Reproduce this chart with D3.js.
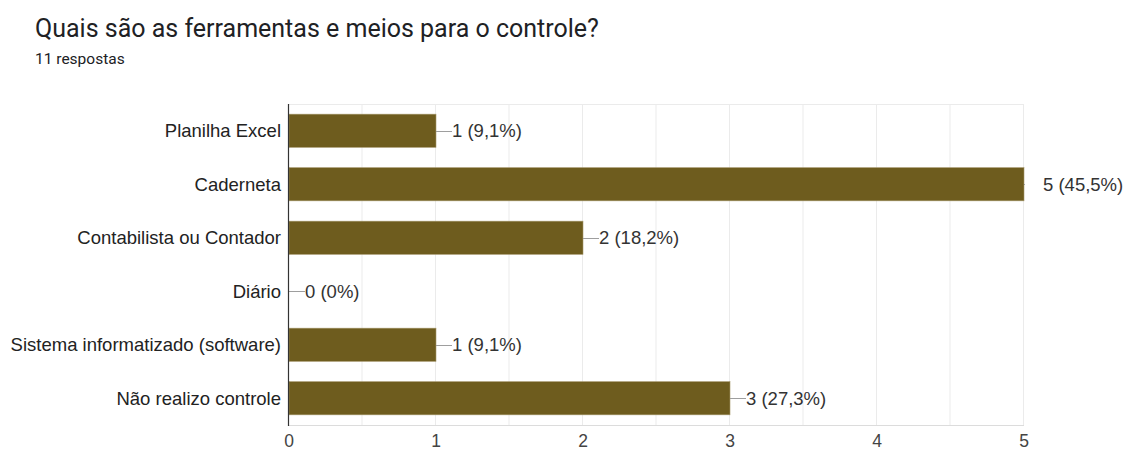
<!DOCTYPE html>
<html>
<head>
<meta charset="utf-8">
<script src="https://cdn.jsdelivr.net/npm/d3@7"></script>
<style>
  html, body { margin: 0; padding: 0; background: #fff; }
  svg { display: block; }
</style>
</head>
<body>
<svg id="chart" width="1124" height="452"></svg>
<script>
// Survey question and answers
const title = "Quais são as ferramentas e meios para o controle?";
const subtitle = "11 respostas";
const categories = [
  "Planilha Excel",
  "Caderneta",
  "Contabilista ou Contador",
  "Diário",
  "Sistema informatizado (software)",
  "Não realizo controle"
];
const counts = [1, 5, 2, 0, 1, 3];
const percentLabels = ["9,1%", "45,5%", "18,2%", "0%", "9,1%", "27,3%"];
const tickValues = [0, 1, 2, 3, 4, 5];
const gridValues = [0.5, 1, 1.5, 2, 2.5, 3, 3.5, 4, 4.5, 5];

const svg = d3.select("#chart");
const width = 1124, height = 452;
const margin = { top: 104, right: 100, bottom: 27, left: 288 };
const plotH = height - margin.top - margin.bottom;  // 321

const labelFont = "'Liberation Sans', Arial, sans-serif";

svg.append("text")
  .attr("x", 35).attr("y", 37)
  .attr("font-family", "Roboto, sans-serif")
  .attr("font-size", 25)
  .attr("fill", "#202124")
  .text(title);

svg.append("text")
  .attr("x", 35).attr("y", 64)
  .attr("font-family", "Roboto, sans-serif")
  .attr("font-size", 15.5)
  .attr("fill", "#202124")
  .text(subtitle);

const x = d3.scaleLinear().domain([0, 5]).range([0, 735]);
const y = d3.scaleBand().domain(categories).range([0, plotH]).paddingInner(0.38).paddingOuter(0.19);

const g = svg.append("g").attr("transform", `translate(${margin.left},${margin.top})`);

// gridlines
g.append("g").selectAll("line").data(gridValues).join("line")
  .attr("x1", d => x(d) + 0.5).attr("x2", d => x(d) + 0.5)
  .attr("y1", 0).attr("y2", plotH)
  .attr("stroke", "#ebebeb").attr("stroke-width", 1);
g.append("line")
  .attr("x1", 0).attr("x2", x(5) + 1)
  .attr("y1", 0.5).attr("y2", 0.5)
  .attr("stroke", "#ebebeb");
g.append("line")
  .attr("x1", 0).attr("x2", x(5) + 1)
  .attr("y1", plotH + 0.5).attr("y2", plotH + 0.5)
  .attr("stroke", "#dcdcdc");

// bars
const rows = categories.map((c, i) => ({ c, v: counts[i], p: percentLabels[i] }));
g.append("g").selectAll("rect").data(rows.filter(d => d.v > 0)).join("rect")
  .attr("x", x(0) + 1)
  .attr("y", d => y(d.c))
  .attr("width", d => x(d.v) - x(0))
  .attr("height", y.bandwidth())
  .attr("fill", "#6e5c1e")
  .attr("stroke", "#a4966a")
  .attr("stroke-width", 0.6);

// leader lines and value labels
const clipId = "leaderClip";
svg.append("defs").append("clipPath").attr("id", clipId)
  .append("rect").attr("x", -2).attr("y", -2).attr("width", x(5) + 4).attr("height", plotH + 4);

g.append("g").attr("clip-path", `url(#${clipId})`)
  .selectAll("line").data(rows).join("line")
  .attr("x1", d => x(d.v) + 1).attr("x2", d => x(d.v) + 17)
  .attr("y1", d => Math.round(y(d.c) + y.bandwidth() / 2) + 0.5)
  .attr("y2", d => Math.round(y(d.c) + y.bandwidth() / 2) + 0.5)
  .attr("stroke", "#9e9e9e").attr("stroke-width", 1);

g.append("g").selectAll("text").data(rows).join("text")
  .attr("x", d => x(d.v) + (d.v === 5 ? 20 : 17))
  .attr("y", d => y(d.c) + y.bandwidth() / 2 + 6.5)
  .attr("font-family", labelFont)
  .attr("font-size", 18.5)
  .attr("fill", "#333")
  .text(d => `${d.v} (${d.p})`);

// category labels
g.append("g").selectAll("text").data(categories).join("text")
  .attr("x", -7)
  .attr("y", d => y(d) + y.bandwidth() / 2 + 6.5)
  .attr("text-anchor", "end")
  .attr("font-family", labelFont)
  .attr("font-size", 18.5)
  .attr("fill", "#222")
  .text(d => d);

// baseline axis
g.append("line")
  .attr("x1", 0.5).attr("x2", 0.5)
  .attr("y1", 0).attr("y2", plotH + 1)
  .attr("stroke", "#333").attr("stroke-width", 1.2);

// x tick labels
g.append("g").selectAll("text").data(tickValues).join("text")
  .attr("x", d => x(d) + 1)
  .attr("y", plotH + 22)
  .attr("text-anchor", "middle")
  .attr("font-family", labelFont)
  .attr("font-size", 17.5)
  .attr("fill", "#444")
  .text(d => d);
</script>
</body>
</html>
